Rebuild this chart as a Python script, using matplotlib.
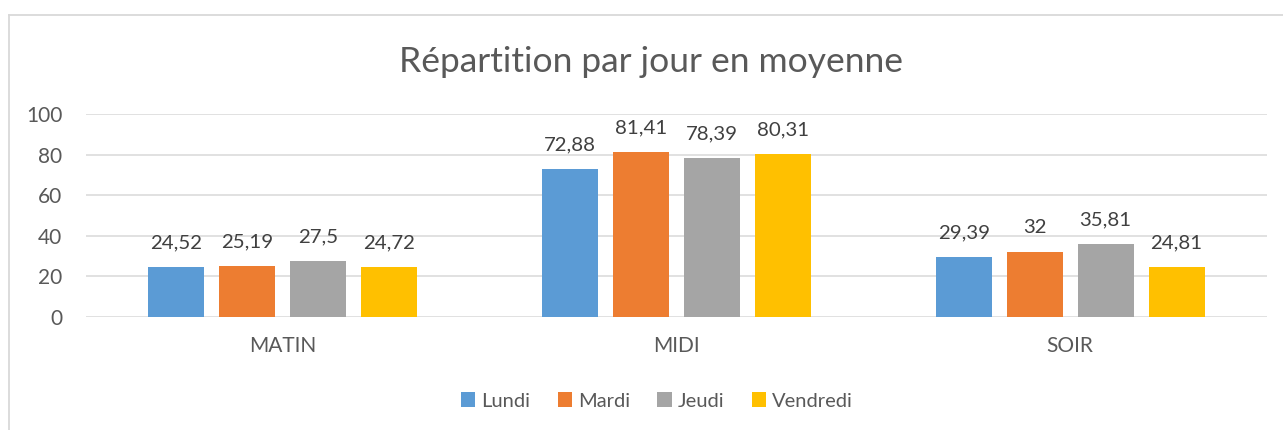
import matplotlib
matplotlib.use("Agg")
import matplotlib.pyplot as plt
import numpy as np
from matplotlib.lines import Line2D
from matplotlib.patches import Patch

categories = ["MATIN", "MIDI", "SOIR"]
series_names = ["Lundi", "Mardi", "Jeudi", "Vendredi"]
lundi = [24.52, 72.88, 29.39]
mardi = [25.19, 81.41, 32]
jeudi = [27.5, 78.39, 35.81]
vendredi = [24.72, 80.31, 24.81]
label_lundi = ["24,52", "72,88", "29,39"]
label_mardi = ["25,19", "81,41", "32"]
label_jeudi = ["27,5", "78,39", "35,81"]
label_vendredi = ["24,72", "80,31", "24,81"]
y_ticks = [0, 20, 40, 60, 80, 100]
title = "Répartition par jour en moyenne"

colors = ["#5B9BD5", "#ED7D31", "#A5A5A5", "#FFC000"]
text_color = "#595959"
grid_color = "#D9D9D9"
FONT = ["Lato", "DejaVu Sans"]
plt.rcParams['font.family'] = FONT

W, H = 1283, 430
fig = plt.figure(figsize=(W / 100, H / 100), dpi=100)
ax = fig.add_axes([86 / W, 1 - 317 / H, (1267 - 86) / W, (317 - 114) / H])

x = np.arange(len(categories))
width = 0.142
step = 0.1803
all_vals = [lundi, mardi, jeudi, vendredi]
all_labels = [label_lundi, label_mardi, label_jeudi, label_vendredi]
for i, (vals, labs) in enumerate(zip(all_vals, all_labels)):
    pos = x + (i - 1.5) * step
    ax.bar(pos, vals, width=width, color=colors[i], label=series_names[i], zorder=3)
    for xp, v, lab in zip(pos, vals, labs):
        ax.annotate(lab, (xp, v), xytext=(0, 13.5), textcoords="offset points",
                    ha="center", va="baseline", fontsize=14.7, color="#404040")

ax.set_xlim(-0.5, 2.5)
ax.set_ylim(0, 100)
ax.set_yticks(y_ticks)
ax.set_yticklabels([str(t) for t in y_ticks])
ax.set_xticks(x)
ax.set_xticklabels(categories)
ax.tick_params(axis="both", length=0, colors=text_color, labelsize=15)
ax.tick_params(axis="y", pad=17)
ax.tick_params(axis="x", pad=14)
ax.yaxis.grid(True, color=grid_color, linewidth=1.1, zorder=0)
ax.set_axisbelow(True)
for s in ax.spines.values():
    s.set_visible(False)

fig.text(651 / W, 1 - 62 / H, title, ha="center", va="center", fontsize=25.5, color=text_color)

handles = [Patch(facecolor=c, edgecolor="none") for c in colors]
fig.legend(handles, series_names, loc="center", bbox_to_anchor=(657 / W, 1 - 401 / H),
           ncol=4, frameon=False, fontsize=14.5, labelcolor=text_color,
           handlelength=0.72, handleheight=0.72, handletextpad=0.3, columnspacing=1.35)

# chart border (partially cropped on right/bottom)
fig.add_artist(Line2D([9 / W, 1.0], [1 - 15 / H, 1 - 15 / H], transform=fig.transFigure,
                      color=grid_color, linewidth=1.3))
fig.add_artist(Line2D([9 / W, 9 / W], [1 - 15 / H, 0], transform=fig.transFigure,
                      color=grid_color, linewidth=1.3))

fig.savefig("out.png", dpi=100, facecolor="white")
